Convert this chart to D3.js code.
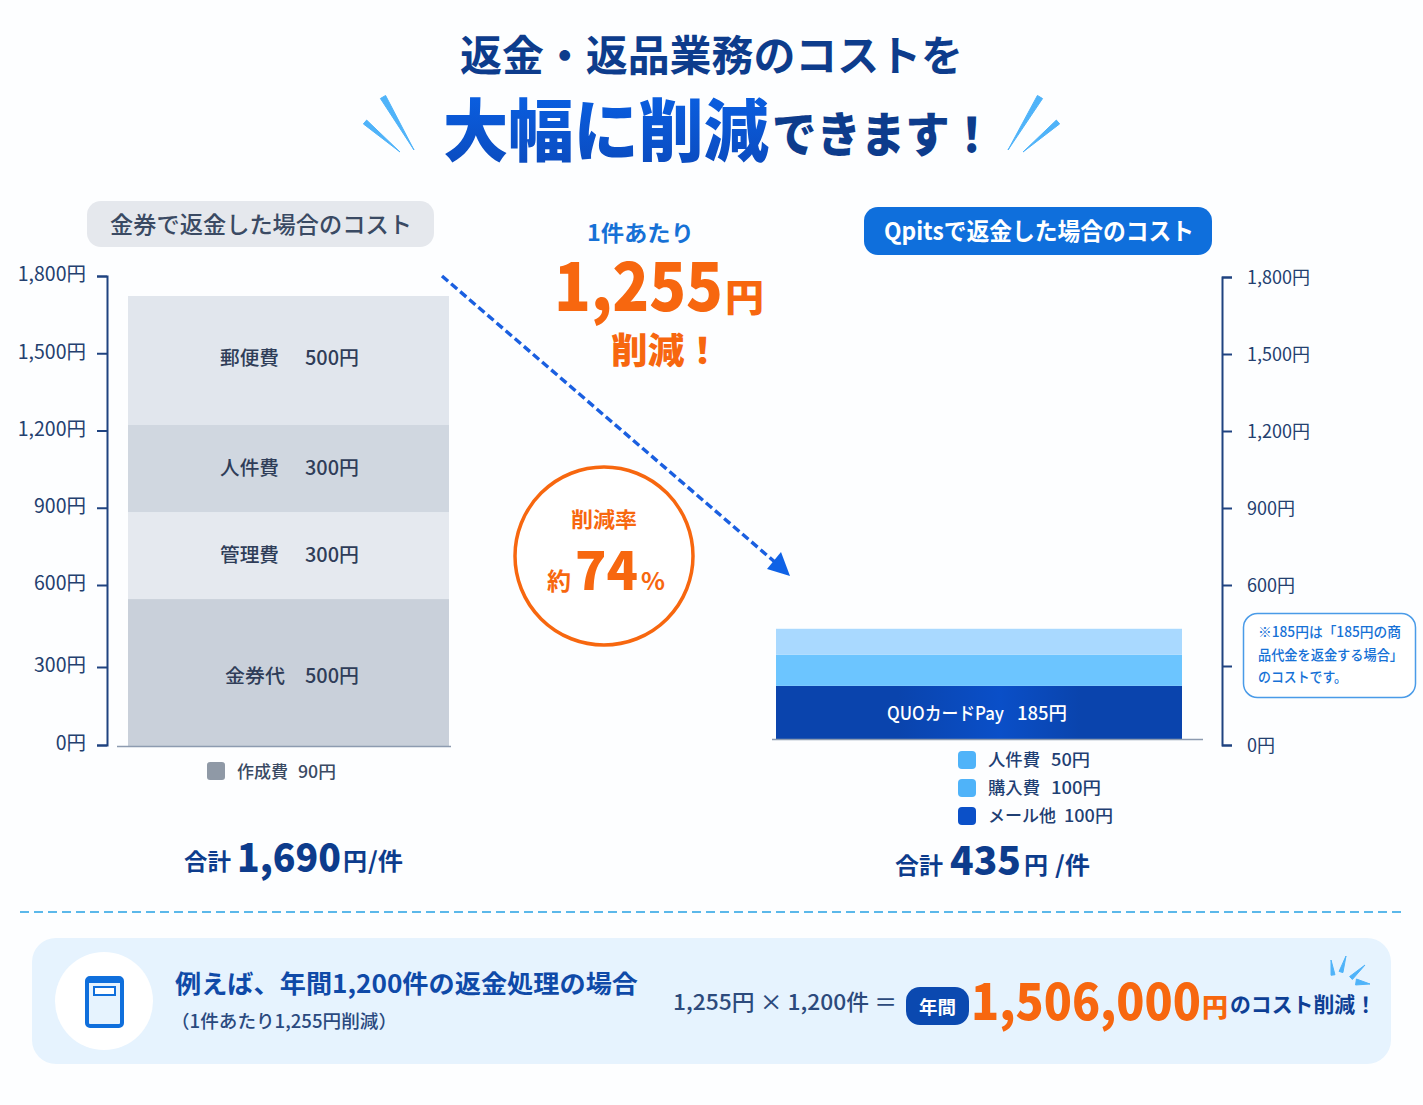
<!DOCTYPE html>
<html lang="ja"><head><meta charset="utf-8">
<script src="https://cdn.jsdelivr.net/npm/d3@7"></script>
<style>html,body{margin:0;padding:0;background:#fdfeff}svg{display:block}text{font-family:"Noto Sans CJK JP","Noto Sans",sans-serif}</style>
</head><body><div id="c"></div>
<script>
// ---- data ----
const axisTicks = [0,300,600,900,1200,1500,1800];
const axisTickLabels = ["0円","300円","600円","900円","1,200円","1,500円","1,800円"];
const leftCategories = ["金券代","管理費","人件費","郵便費"];
const leftLabelValues = ["500円","300円","300円","500円"];
const leftDrawnHeights = [564,334,334,495];           // bar band heights as drawn, in axis units
const leftColors = ["#c9d0da","#e5e9ef","#d0d7e0","#e1e6ed"];
const rightCategories = ["QUOカードPay","メール他","購入費","人件費"];
const rightDrawnHeights = [204,119,100];              // bands as drawn, in axis units
const rightColors = ["#0a44ad","#6cc5ff","#a9d9ff"];
const leftLegend = [["作成費","90円"]];
const rightLegend = [["人件費","50円"],["購入費","100円"],["メール他","100円"]];
const rightLegendColors = ["#4fb3f9","#4fb3f9","#0b50c8"];

const W=1423,H=1105;
const svg=d3.select("#c").append("svg").attr("width",W).attr("height",H).attr("viewBox",[0,0,W,H]);
const ORANGE="#f7670f",NAVY="#0d3c8c",SKY="#4fb3f9";
const defs=svg.append("defs");
const g1=defs.append("linearGradient").attr("id","titleGrad").attr("x1",0).attr("x2",0).attr("y1",0).attr("y2",1);
g1.append("stop").attr("offset",0).attr("stop-color","#0a63e8");
g1.append("stop").attr("offset",1).attr("stop-color","#0b49bb");
const g2=defs.append("linearGradient").attr("id","barGrad").attr("x1",0).attr("x2",1).attr("y1",0).attr("y2",0);
[[0,"#0a44ad"],[.3,"#0a44ad"],[.55,"#0a4fc8"],[.75,"#0a44ad"],[1,"#0a44ad"]].forEach(s=>g2.append("stop").attr("offset",s[0]).attr("stop-color",s[1]));

svg.append("rect").attr("width",W).attr("height",H).attr("fill","#fdfeff");

function T(x,y,s,size,weight,fill,len,anchor){
  const t=svg.append("text").attr("x",x).attr("y",y).attr("font-size",size).attr("font-weight",weight).attr("fill",fill).text(s);
  if(len){t.attr("textLength",len).attr("lengthAdjust","spacingAndGlyphs");}
  if(anchor)t.attr("text-anchor",anchor);
  return t;
}
function spark(x1,y1,x2,y2,w){ // tapered stroke, wide at (x1,y1)
  const dx=x2-x1,dy=y2-y1,l=Math.hypot(dx,dy),nx=-dy/l*w/2,ny=dx/l*w/2;
  svg.append("path").attr("d",`M${x1+nx},${y1+ny}L${x2},${y2}L${x1-nx},${y1-ny}Z`).attr("fill",SKY).attr("stroke",SKY).attr("stroke-width",1).attr("stroke-linejoin","round");
}
// ---- title ----
T(460,71,"返金・返品業務のコストを",42,700,NAVY,503);
T(443,156,"大幅に削減",68,900,"url(#titleGrad)",326);
T(772,152,"できます！",48,900,NAVY,222);
spark(383,97,414,150,6);spark(365,122,400,152,5);spark(1040,97,1008,150,6);spark(1058,122,1023,152,5);

// ---- scales ----
const yL=d3.scaleLinear().domain([0,300,600,1800]).range([745,667,585,276]);
const yR=d3.scaleLinear().domain([0,300,600,1800]).range([745,666,585,277]);
const hLeft=d3.scaleLinear().domain([0,1800]).range([0,469]);
const xL=d3.scaleBand().domain(["left"]).range([128,449]);
const xR=d3.scaleBand().domain(["right"]).range([776,1182]);

// ---- axes ----
const fmt=d=>axisTickLabels[axisTicks.indexOf(d)];
function styleAxis(g,anchor,lx,size){
  g.select(".domain").attr("stroke","#1f4380").attr("stroke-width",2);
  g.selectAll(".tick line").attr("stroke","#1f4380").attr("stroke-width",2);
  g.selectAll(".tick text").attr("font-size",size).attr("font-family",'"Noto Sans CJK JP"').attr("fill","#24406f").attr("text-anchor",anchor).attr("x",lx);
}
svg.append("g").attr("transform","translate(107,0)")
  .call(d3.axisLeft(yL).tickValues(axisTicks).tickFormat(fmt).tickSize(10).tickSizeOuter(10))
  .call(g=>styleAxis(g,"end",-21,19.5)).selectAll(".tick text").attr("dy","0.25em");
svg.append("g").attr("transform","translate(1222,0)")
  .call(d3.axisRight(yR).tickValues(axisTicks).tickFormat(fmt).tickSize(10).tickSizeOuter(10))
  .call(g=>styleAxis(g,"start",25,18)).selectAll(".tick text").attr("dy","0.36em");

// ---- pills ----
svg.append("rect").attr("x",87).attr("y",201).attr("width",347).attr("height",46).attr("rx",14).attr("fill","#e5e8ed");
T(110,233,"金券で返金した場合のコスト",23,500,"#3a4a63",302);
svg.append("rect").attr("x",864).attr("y",207).attr("width",348).attr("height",48).attr("rx",14).attr("fill","#0f6fdc");
T(884,240,"Qpitsで返金した場合のコスト",24,700,"#fff",310);

// ---- left stacked bar ----
let acc=0;
const leftStack=leftDrawnHeights.map(v=>{const s={y0:acc,y1:acc+v};acc+=v;return s;});
const lBase=746;
svg.append("g").selectAll("rect").data(leftStack).join("rect")
  .attr("x",xL("left")).attr("width",xL.bandwidth())
  .attr("y",d=>lBase-hLeft(d.y1)).attr("height",d=>hLeft(d.y1-d.y0))
  .attr("fill",(d,i)=>leftColors[i]);
svg.append("line").attr("x1",117).attr("x2",451).attr("y1",746.5).attr("y2",746.5).attr("stroke","#8d9bb0").attr("stroke-width",1.5);
const leftLabelBaselines=[683,562,475,365];
leftCategories.forEach((c,i)=>{
  const cy=leftLabelBaselines[i];
  T(i==0?225:220,cy,c,19.5,500,"#2f3d58",i==0?60:59);
  T(305,cy,leftLabelValues[i],19.5,500,"#2f3d58",54);
});

// ---- right stacked bar ----
acc=0;
const rightStack=rightDrawnHeights.map(v=>{const s={y0:acc,y1:acc+v};acc+=v;return s;});
const rBase=739;
svg.append("g").selectAll("rect").data(rightStack).join("rect")
  .attr("x",xR("right")).attr("width",xR.bandwidth())
  .attr("y",d=>rBase-hLeft(d.y1)).attr("height",d=>hLeft(d.y1-d.y0))
  .attr("fill",(d,i)=>i==0?"url(#barGrad)":rightColors[i]);
svg.append("line").attr("x1",772).attr("x2",1203).attr("y1",739.5).attr("y2",739.5).attr("stroke","#8d9bb0").attr("stroke-width",1.5);
T(887,720,rightCategories[0],18,500,"#fff",117);
T(1017,720,"185円",18,500,"#fff",50);

// ---- legends ----
svg.append("rect").attr("x",207).attr("y",762).attr("width",18).attr("height",18).attr("rx",3).attr("fill","#8f99a6");
T(237,778,leftLegend[0][0],17,500,"#3a4a63",51);
T(298,778,leftLegend[0][1],17,500,"#3a4a63",38);
const legY=[751,779,807],legW=[[52,39],[52,50],[68,49]],legX=[1051,1051,1064];
rightLegend.forEach((r,i)=>{
  svg.append("rect").attr("x",958).attr("y",legY[i]).attr("width",18).attr("height",18).attr("rx",4).attr("fill",rightLegendColors[i]);
  T(988,legY[i]+15,r[0],17,500,"#1f3f73",legW[i][0]);
  T(legX[i],legY[i]+15,r[1],17,500,"#1f3f73",legW[i][1]);
});

// ---- totals ----
T(184,870,"合計",23,700,NAVY,47);
T(237,872,"1,690",39,900,NAVY,104);
T(343,870,"円",24,700,NAVY,24);
T(368,870,"/件",24,700,NAVY,35);
T(895,874,"合計",23,700,NAVY,48);
T(950,875,"435",39,900,NAVY,71);
T(1024,874,"円",24,700,NAVY,24);
T(1055,874,"/件",24,700,NAVY,35);

// ---- centre callout ----
T(587,241,"1件あたり",22,700,"#1671d6",107);
T(554,311,"1,255",66,900,ORANGE,169);
T(725,311,"円",38,900,ORANGE,39);
T(611,364,"削減！",36,900,ORANGE,110);
const ax=d3.line();
svg.append("path").attr("d",ax([[442,276],[776,563]])).attr("fill","none").attr("stroke","#1a5fe0").attr("stroke-width",3.4).attr("stroke-dasharray","8 4");
svg.append("path").attr("d","M790,576L767,569L781,552Z").attr("fill","#0f62e6");
svg.append("circle").attr("cx",604).attr("cy",556).attr("r",89).attr("fill","#fff").attr("stroke",ORANGE).attr("stroke-width",3.5);
T(571,527,"削減率",21,700,ORANGE,66);
T(547,590,"約",24,700,ORANGE,24);
T(575,590,"74",52,900,ORANGE,63);
T(641,590,"%",24,700,ORANGE,24);

// ---- note ----
svg.append("rect").attr("x",1243.5).attr("y",613.5).attr("width",172).attr("height",84).attr("rx",14).attr("fill","#fff").attr("stroke","#4a9be8").attr("stroke-width",1.5);
T(1258,637,"※185円は「185円の商",14,500,"#1671d6",143);
T(1258,660,"品代金を返金する場合」",14,500,"#1671d6",145);
T(1258,682,"のコストです。",14,500,"#1671d6",89);

// ---- bottom ----
svg.append("line").attr("x1",20).attr("x2",1402).attr("y1",912).attr("y2",912).attr("stroke","#5bb8ea").attr("stroke-width",2).attr("stroke-dasharray","9 5");
svg.append("rect").attr("x",32).attr("y",938).attr("width",1359).attr("height",126).attr("rx",24).attr("fill","#e6f3fe");
svg.append("circle").attr("cx",104).attr("cy",1001).attr("r",49).attr("fill","#fff");
svg.append("rect").attr("x",87).attr("y",978).attr("width",35).attr("height",48).attr("rx",3).attr("fill","#e6f3fe").attr("stroke","#0f6fdc").attr("stroke-width",4);
svg.append("rect").attr("x",87).attr("y",978).attr("width",35).attr("height",5).attr("fill","#0f6fdc");
svg.append("rect").attr("x",94).attr("y",987).attr("width",21).attr("height",8).attr("fill","#fff").attr("stroke","#0f6fdc").attr("stroke-width",2);
T(175,993,"例えば、年間1,200件の返金処理の場合",25,700,"#0f4aa8",463);
T(171,1028,"（1件あたり1,255円削減）",18,500,"#2a4a7f",226);
T(673,1010,"1,255円 × 1,200件 ＝",22,500,"#2c4a7c",224);
svg.append("rect").attr("x",906).attr("y",987).attr("width",63).attr("height",38).attr("rx",14).attr("fill","#0b49b0");
T(919,1014,"年間",18,700,"#fff",37);
T(971,1020,"1,506,000",50,900,ORANGE,230);
T(1202,1017,"円",26,900,ORANGE,26);
T(1230,1012,"のコスト削減！",21,700,"#0e3f95",146);
spark(1333,975,1331,960,4);spark(1341,972,1346,956,4);spark(1351,978,1365,965,4);spark(1356,982,1370,984,6);
</script></body></html>
